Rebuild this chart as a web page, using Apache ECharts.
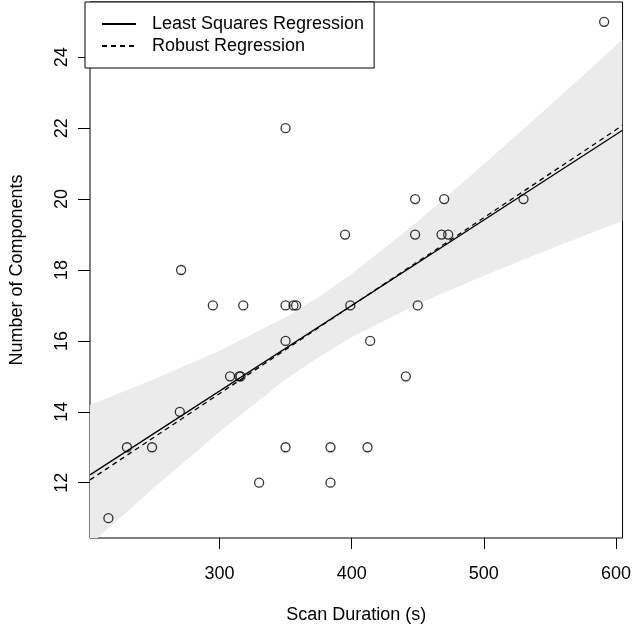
<!DOCTYPE html>
<html>
<head>
<meta charset="utf-8">
<script src="https://cdn.jsdelivr.net/npm/echarts@6/dist/echarts.min.js"></script>
<style>
html,body{margin:0;padding:0;background:#fff;}
#chart{width:634px;height:629px;}
</style>
</head>
<body>
<div id="chart"></div>
<script>
// Scan duration (s) and number of components
const scanDuration = [216,230,249,270,271,295,308,315,316,318,330,350,350,350,350,356,358,384,384,395,399,412,414,441,448,448,450,470,468,473,530,591];
const components   = [11, 13, 13, 14, 18, 17, 15, 15, 15, 17, 12, 22, 17, 16, 13, 17, 17, 13, 12, 19, 17, 13, 16, 15, 20, 19, 17, 20, 19, 19, 20, 25];

// Regression line end points
const lineX   = [202.08, 604.92];
const lsY     = [12.22, 21.94];
const robustY = [12.08, 22.08];

// 95% confidence band of the least-squares line
const bandX  = [202.08, 250, 300, 350, 375, 400, 450, 500, 550, 604.92];
const bandLo = [10.25, 11.84, 13.44, 14.91, 15.54, 16.10, 17.04, 17.84, 18.59, 19.38];
const bandHi = [14.19, 14.91, 15.72, 16.67, 17.24, 17.89, 19.37, 20.98, 22.64, 24.50];

// Axis ticks
const xTicks = [300, 400, 500, 600];
const yTicks = [12, 14, 16, 18, 20, 22, 24];

const FONT = '"Liberation Sans", Arial, Helvetica, sans-serif';

const chart = echarts.init(document.getElementById('chart'));
chart.setOption({
  backgroundColor: '#ffffff',
  animation: false,
  textStyle: { fontFamily: FONT },
  grid: {
    left: 85, right: 10, top: 2, bottom: 87,
    show: true, borderColor: '#000', borderWidth: 1, backgroundColor: 'transparent'
  },
  legend: {
    left: 85, top: 2,
    orient: 'vertical',
    data: ['Least Squares Regression', 'Robust Regression'],
    backgroundColor: '#fff',
    borderColor: '#000', borderWidth: 1, borderRadius: 0,
    padding: [13, 10, 13, 16],
    itemGap: 4,
    itemWidth: 34, itemHeight: 14,
    itemStyle: { opacity: 0 },
    textStyle: { fontSize: 18, color: '#000', fontFamily: FONT, padding: [0, 0, 0, 11] },
    z: 10
  },
  xAxis: {
    type: 'value', min: 202.08, max: 604.92,
    name: 'Scan Duration (s)', nameLocation: 'middle', nameGap: 68,
    nameTextStyle: { fontSize: 18, color: '#000', fontFamily: FONT },
    axisLine: { show: false },
    axisTick: { show: true, length: 11, customValues: xTicks, lineStyle: { color: '#000', width: 1 } },
    axisLabel: { customValues: xTicks, fontSize: 18, color: '#000', margin: 27, fontFamily: FONT },
    splitLine: { show: false }
  },
  yAxis: {
    type: 'value', min: 10.44, max: 25.56,
    name: 'Number of Components', nameLocation: 'middle', nameGap: 64,
    nameTextStyle: { fontSize: 18, color: '#000', fontFamily: FONT },
    axisLine: { show: false },
    axisTick: { show: true, length: 12, customValues: yTicks, lineStyle: { color: '#000', width: 1 } },
    axisLabel: { customValues: yTicks, fontSize: 18, color: '#000', margin: 19, rotate: 90, fontFamily: FONT },
    splitLine: { show: false }
  },
  series: [
    {
      type: 'custom',
      name: 'band',
      clip: true,
      z: 1,
      silent: true,
      encode: { x: 0, y: [1, 2] },
      data: bandX.map((x, i) => [x, bandLo[i], bandHi[i]]),
      renderItem: function (params, api) {
        if (params.dataIndex !== 0) return null;
        const pts = [];
        for (let i = 0; i < bandX.length; i++) pts.push(api.coord([bandX[i], bandHi[i]]));
        for (let i = bandX.length - 1; i >= 0; i--) pts.push(api.coord([bandX[i], bandLo[i]]));
        const cs = params.coordSys;
        return {
          type: 'polygon',
          shape: { points: pts },
          style: { fill: '#ebebeb', stroke: null },
          clipPath: { type: 'rect', shape: { x: cs.x, y: cs.y, width: cs.width, height: cs.height } }
        };
      }
    },
    {
      type: 'line',
      name: 'Least Squares Regression',
      z: 3,
      symbol: 'none',
      data: lineX.map((x, i) => [x, lsY[i]]),
      lineStyle: { color: '#000', width: 1.3, type: 'solid' },
      itemStyle: { color: '#000' }
    },
    {
      type: 'line',
      name: 'Robust Regression',
      z: 3,
      symbol: 'none',
      data: lineX.map((x, i) => [x, robustY[i]]),
      lineStyle: { color: '#000', width: 1.3, type: [5, 4] },
      itemStyle: { color: '#000' }
    },
    {
      type: 'scatter',
      name: 'points',
      z: 4,
      symbol: 'circle',
      symbolSize: 9,
      data: scanDuration.map((x, i) => [x, components[i]]),
      itemStyle: { color: 'rgba(0,0,0,0)', borderColor: '#000', borderWidth: 1.3 }
    }
  ]
});
</script>
</body>
</html>
